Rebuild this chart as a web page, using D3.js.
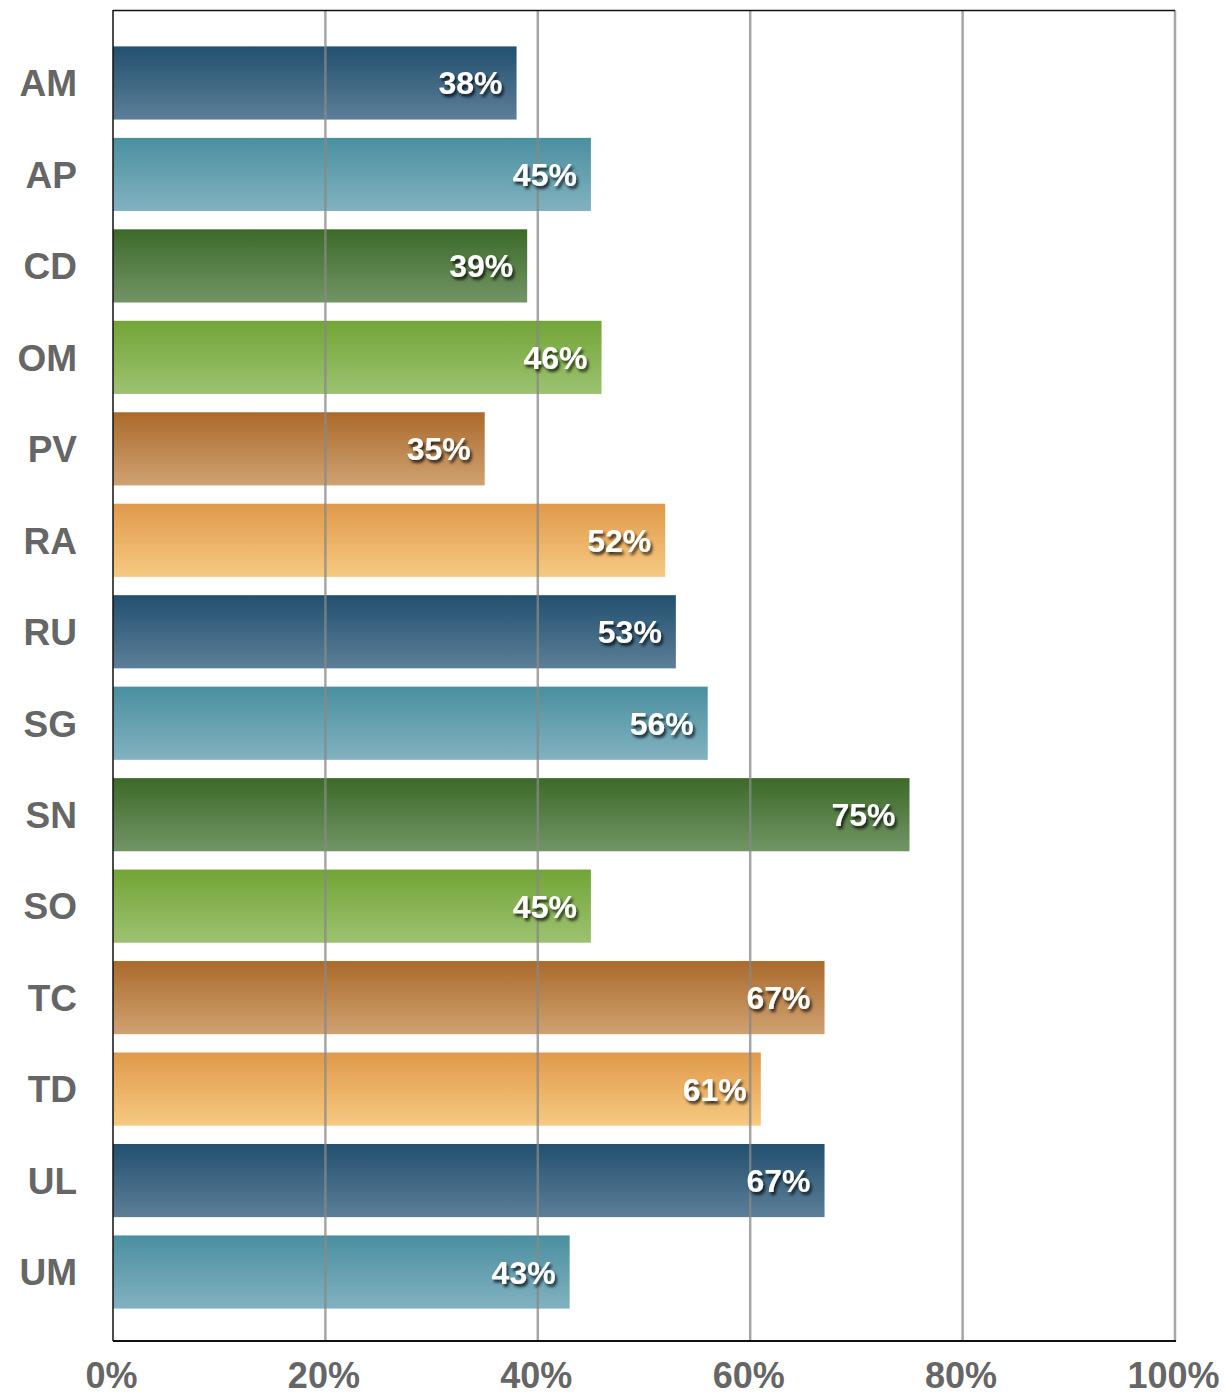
<!DOCTYPE html>
<html>
<head>
<meta charset="utf-8">
<script src="https://cdn.jsdelivr.net/npm/d3@7"></script>
<style>
  body { margin: 0; background: #fff; }
  svg { display: block; }
</style>
</head>
<body>
<script>
const categories = ["AM","AP","CD","OM","PV","RA","RU","SG","SN","SO","TC","TD","UL","UM"];
const values = [38,45,39,46,35,52,53,56,75,45,67,61,67,43];
const tickValues = [0,20,40,60,80,100];
const tickLabels = ["0%","20%","40%","60%","80%","100%"];
const palette = [
  ["#22506f","#5c7f98"],
  ["#4a8fa0","#82b2c0"],
  ["#3c6a29","#729565"],
  ["#72a536","#9dc271"],
  ["#ab6a2b","#cfa272"],
  ["#e0994a","#f6ca82"]
];

const W = 1225, H = 1397;
const mLeft = 113, mRight = 1175, mTop = 10, mBottom = 1341;

const svg = d3.select("body").append("svg").attr("width", W).attr("height", H);
const defs = svg.append("defs");
palette.forEach((c, i) => {
  const g = defs.append("linearGradient").attr("id", "g" + i)
    .attr("x1", 0).attr("y1", 0).attr("x2", 0).attr("y2", 1);
  g.append("stop").attr("offset", "0%").attr("stop-color", c[0]);
  g.append("stop").attr("offset", "100%").attr("stop-color", c[1]);
});
const f = defs.append("filter").attr("id", "shadow")
  .attr("x", "-20%").attr("y", "-30%").attr("width", "150%").attr("height", "170%");
f.append("feDropShadow").attr("dx", 2).attr("dy", 3).attr("stdDeviation", 1.8)
  .attr("flood-color", "#000").attr("flood-opacity", 0.75);

const x = d3.scaleLinear().domain([0, 100]).range([mLeft, mRight]);
const y = d3.scaleBand().domain(categories).range([mTop + 2, mBottom + 2])
  .paddingInner(0.2).paddingOuter(0.376);

// bars
svg.append("g").selectAll("rect").data(categories).join("rect")
  .attr("x", x(0))
  .attr("y", d => y(d))
  .attr("width", (d, i) => x(values[i]) - x(0))
  .attr("height", y.bandwidth())
  .attr("fill", (d, i) => `url(#g${i % palette.length})`);

// gridlines on top
svg.append("g").selectAll("line").data(tickValues.filter(v => v > 0)).join("line")
  .attr("x1", d => x(d)).attr("x2", d => x(d))
  .attr("y1", mTop).attr("y2", mBottom)
  .attr("stroke", "#888").attr("stroke-opacity", 0.75).attr("stroke-width", 2.5);

// frame
svg.append("line").attr("x1", mLeft).attr("x2", mRight).attr("y1", mTop + 0.5).attr("y2", mTop + 0.5)
  .attr("stroke", "#111").attr("stroke-width", 1.5);
svg.append("line").attr("x1", mLeft).attr("x2", mRight + 1).attr("y1", mBottom).attr("y2", mBottom)
  .attr("stroke", "#111").attr("stroke-width", 2);
svg.append("line").attr("x1", mLeft).attr("x2", mLeft).attr("y1", mTop).attr("y2", mBottom)
  .attr("stroke", "#111").attr("stroke-width", 1.5);

// value labels
svg.append("g").selectAll("text").data(categories).join("text")
  .attr("x", (d, i) => x(values[i]) - 14)
  .attr("y", d => y(d) + y.bandwidth() / 2)
  .attr("dy", "0.36em")
  .attr("text-anchor", "end")
  .attr("font-family", "'Liberation Sans', Arial, Helvetica, sans-serif")
  .attr("font-weight", "bold")
  .attr("font-size", 32)
  .attr("fill", "#fff")
  .attr("filter", "url(#shadow)")
  .text((d, i) => values[i] + "%");

// category labels
const yAxis = d3.axisLeft(y).tickSize(0).tickPadding(36);
const ya = svg.append("g").attr("transform", `translate(${mLeft},0)`).call(yAxis);
ya.select(".domain").remove();
ya.selectAll("text")
  .attr("font-family", "'Liberation Sans', Arial, Helvetica, sans-serif")
  .attr("font-weight", "bold").attr("font-size", 37).attr("fill", "#666")
  .attr("dy", "0.36em");

// x tick labels
const xAxis = d3.axisBottom(x).tickValues(tickValues).tickSize(0).tickPadding(0)
  .tickFormat((d, i) => tickLabels[i]);
const xa = svg.append("g").attr("transform", `translate(0,${mBottom})`).call(xAxis);
xa.select(".domain").remove();
xa.selectAll("text")
  .attr("font-family", "'Liberation Sans', Arial, Helvetica, sans-serif")
  .attr("font-weight", "bold").attr("font-size", 36).attr("fill", "#666")
  .attr("dy", null).attr("y", 47).attr("dx", -2);
</script>
</body>
</html>
